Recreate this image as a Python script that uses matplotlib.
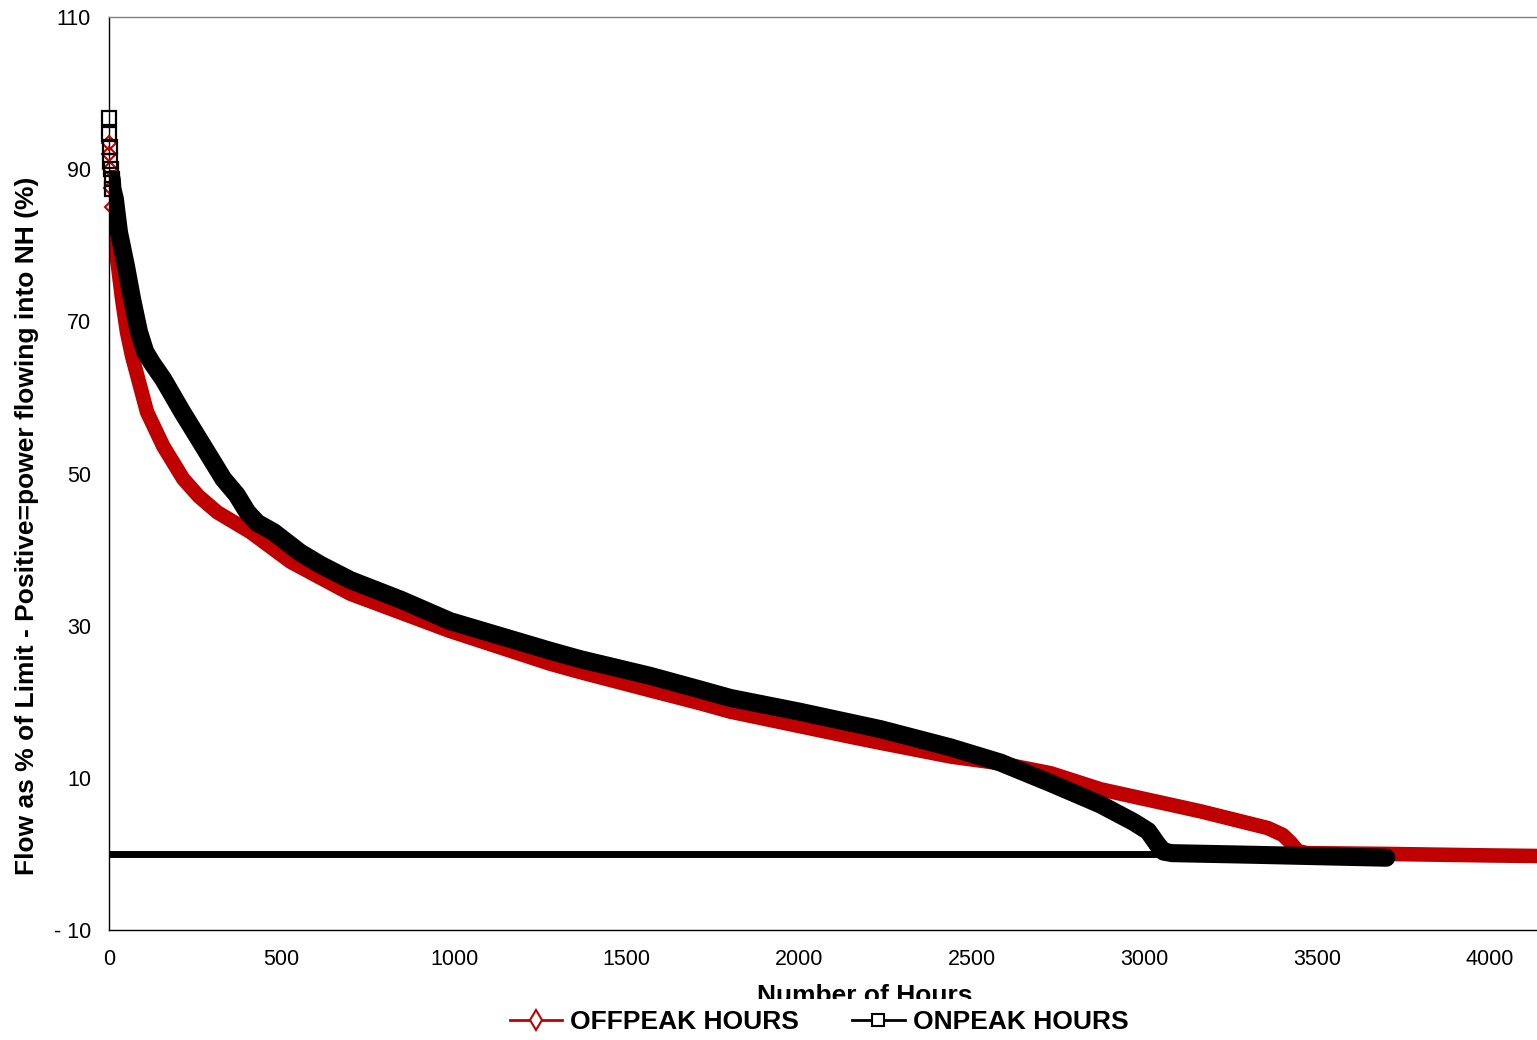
import numpy as np
import matplotlib.pyplot as plt
from matplotlib.lines import Line2D

plt.rcParams['font.family'] = ['Liberation Sans', 'DejaVu Sans']

# duration curves (hours sorted, % of limit)
onpeak_hours = [0, 1, 2, 4, 6, 8, 10, 17, 29, 49, 67, 87, 105, 125, 157, 212, 273,
                331, 370, 401, 430, 477, 554, 613, 699, 846, 988, 1278, 1365, 1568,
                1713, 1800, 2000, 2235, 2438, 2583, 2728, 2872, 2968, 3010, 3038,
                3055, 3080, 3300, 3500, 3700]
onpeak_flow = [96.7, 94.6, 92.9, 91.1, 90.0, 88.7, 87.4, 86.1, 81.7, 77.3, 72.9,
               68.6, 66.0, 64.5, 62.4, 58.1, 53.6, 49.3, 47.2, 44.9, 43.5, 42.3,
               39.6, 38.0, 36.0, 33.4, 30.6, 26.7, 25.6, 23.4, 21.6, 20.5, 18.7,
               16.4, 14.0, 12.0, 9.3, 6.5, 4.2, 3.0, 1.2, 0.3, 0.1, -0.1, -0.3,
               -0.5]

offpeak_hours = [0, 1, 3, 5, 8, 12, 26, 38, 52, 67, 90, 110, 157, 215, 260, 314,
                 410, 526, 604, 699, 988, 1278, 1365, 1568, 1713, 1800, 2148, 2235,
                 2438, 2583, 2728, 2872, 3162, 3357, 3400, 3423, 3443, 3470, 3700,
                 4000, 4380]
offpeak_flow = [93.5, 92.0, 90.0, 87.5, 85.0, 81.7, 77.3, 72.9, 68.6, 65.4, 61.5,
                58.1, 53.6, 49.3, 47.0, 44.9, 42.3, 38.4, 36.5, 34.2, 29.3, 25.0,
                23.9, 21.5, 19.8, 18.7, 15.4, 14.6, 12.8, 11.9, 10.6, 8.5, 5.6, 3.4,
                2.5, 1.5, 0.4, 0.1, 0.0, -0.2, -0.4]

x_ticks = [0, 500, 1000, 1500, 2000, 2500, 3000, 3500, 4000]
y_ticks = [-10, 10, 30, 50, 70, 90, 110]
y_labels = ['- 10', '10', '30', '50', '70', '90', '110']

red = '#C00000'

fig = plt.figure(figsize=(15.37, 10.4), dpi=100)
# the plot area runs past the right edge of the picture, as in the original crop
ax = fig.add_axes([109 / 1537, 1 - 930 / 1040, 1512 / 1537, 913 / 1040])

on_h = np.array(onpeak_hours)
on_f = np.array(onpeak_flow)
off_h = np.array(offpeak_hours)
off_f = np.array(offpeak_flow)

ax.axhline(0, color='black', lw=5, zorder=1)

# thick bands stand in for the thousands of overlapping markers;
# only the first few hours show single open markers
off_band = off_h >= 5
off_mark = off_h <= 8
ax.plot(off_h[off_band], off_f[off_band], color=red, lw=10.5,
        solid_capstyle='round', zorder=2)
ax.plot(off_h[off_mark], off_f[off_mark], ls='none', marker='D', ms=7,
        mfc='none', mec=red, mew=1.5, zorder=3, clip_on=False)

on_band = on_h >= 8
on_mark = on_h <= 10
ax.plot(on_h[on_band], on_f[on_band], color='black', lw=13,
        solid_capstyle='round', zorder=4)
ax.plot(on_h[on_mark], on_f[on_mark], ls='none', marker='s', ms=10,
        mfc='none', mec='black', mew=1.6, zorder=5, clip_on=False)

ax.set_xlim(0, 4380)
ax.set_ylim(-10, 110)
ax.set_xticks(x_ticks)
ax.set_yticks(y_ticks)
ax.set_yticklabels(y_labels)
ax.tick_params(length=0, labelsize=15.5)
ax.tick_params(axis='y', pad=13)
ax.tick_params(axis='x', pad=14)
ax.spines['right'].set_visible(False)
ax.spines['top'].set_color('#808080')
for s in ['left', 'bottom', 'top']:
    ax.spines[s].set_linewidth(1.0)

fig.text(27 / 1537, 1 - 526 / 1040,
         'Flow as % of Limit - Positive=power flowing into NH (%)',
         rotation=90, ha='center', va='center', fontsize=19, fontweight='bold')
fig.text(865 / 1537, 1 - 996 / 1040, 'Number of Hours',
         ha='center', va='center', fontsize=19, fontweight='bold')

handles = [
    Line2D([], [], color=red, lw=2, marker='d', ms=10, mfc='white', mec=red, mew=1.5),
    Line2D([], [], color='black', lw=2, marker='s', ms=8, mfc='white', mec='black', mew=1.5),
]
leg = fig.legend(handles, ['OFFPEAK HOURS', 'ONPEAK HOURS'], loc='center',
                 bbox_to_anchor=(819 / 1537, 1 - 1022 / 1040), ncol=2,
                 prop={'size': 19, 'weight': 'bold'}, handlelength=2.0,
                 handletextpad=0.3, columnspacing=2.0, frameon=True,
                 facecolor='white', edgecolor='none', framealpha=1,
                 borderpad=0.42)

fig.savefig('out.png', dpi=100)
